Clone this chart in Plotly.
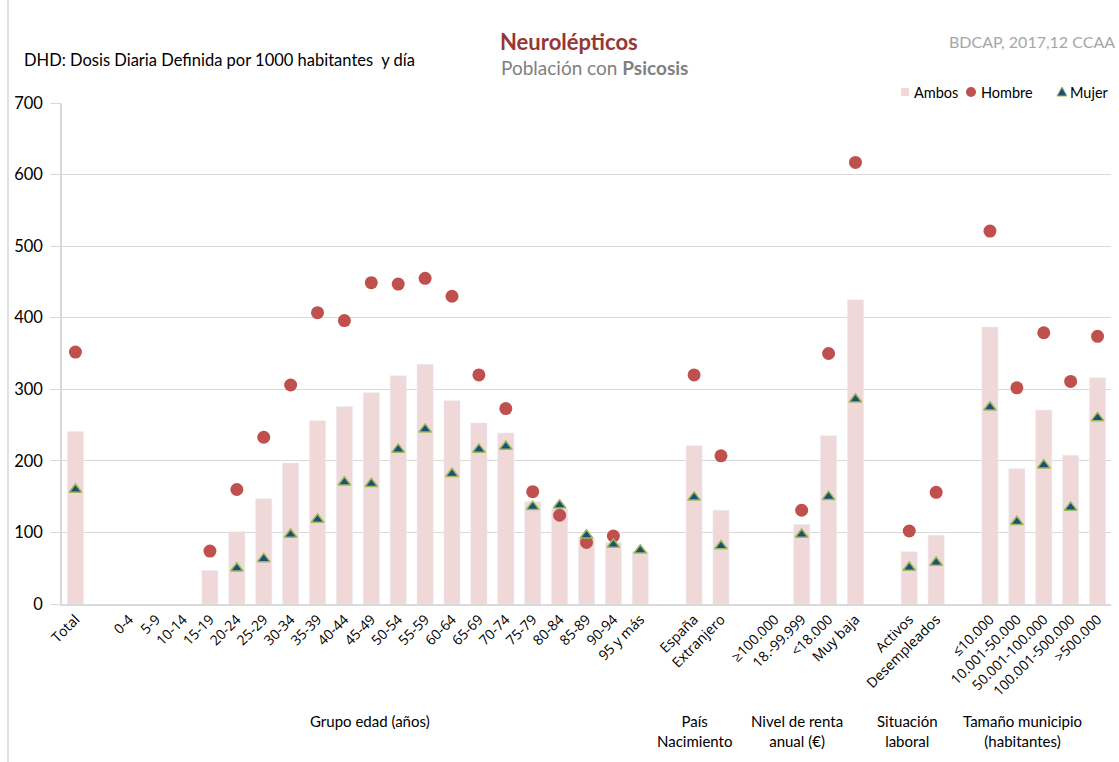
import plotly.graph_objects as go

categories = ["Total", " ", "0-4", "5-9", "10-14", "15-19", "20-24", "25-29", "30-34",
              "35-39", "40-44", "45-49", "50-54", "55-59", "60-64", "65-69", "70-74",
              "75-79", "80-84", "85-89", "90-94", "95 y más", "  ", "España", "Extranjero",
              "   ", "≥100.000", "18.-99.999", "<18.000", "Muy baja", "    ", "Activos",
              "Desempleados", "     ", "≤10.000", "10.001-50.000", "50.001-100.000",
              "100.001-500.000", ">500.000"]

ambos = [241, None, None, None, None, 47, 101, 147, 197, 256, 276, 295, 319, 335, 284, 253,
         239, 143, 133, 93, 86, 73, None, 221, 131, None, None, 111, 235, 425, None, 73, 96,
         None, 387, 189, 271, 208, 316]
hombre = [352, None, None, None, None, 74, 160, 233, 306, 407, 396, 449, 447, 455, 430, 320,
          273, 157, 124, 86, 95, None, None, 320, 207, None, None, 131, 350, 617, None, 102,
          156, None, 521, 302, 379, 311, 374]
mujer = [160, None, None, None, None, None, 50, 63, 97, 118, 170, 168, 216, 244, 182, 216,
         220, 136, 138, 96, 83, 75, None, 149, 81, None, None, 97, 150, 286, None, 51, 58,
         None, 275, 115, 194, 135, 260]

group_labels = ["Grupo edad (años)", "País<br>Nacimiento", "Nivel de renta<br>anual (€)",
                "Situación<br>laboral", "Tamaño municipio<br>(habitantes)"]
group_x = [370, 694, 797, 907, 1022]

series_names = ["Ambos", "Hombre", "Mujer"]
colors = dict(Ambos="#F0D8D9", Hombre="#C0504D", Mujer="#1F4E79", MujerLine="#9BBB59")

W, H = 1119, 762
L, R, T, B = 62, 8, 103, 158
pw, ph = W - L - R, H - T - B


def px_x(x):
    return (x - L) / pw


def px_y(y):
    return (H - B - y) / ph


fig = go.Figure()
fig.add_trace(go.Bar(x=categories, y=ambos, name=series_names[0], marker_color=colors["Ambos"],
                     width=0.6))
fig.add_trace(go.Scatter(x=categories, y=hombre, name=series_names[1], mode="markers",
                         marker=dict(symbol="circle", size=13, color=colors["Hombre"])))
fig.add_trace(go.Scatter(x=categories, y=mujer, name=series_names[2], mode="markers",
                         marker=dict(symbol="triangle-up", size=11, color=colors["Mujer"],
                                     line=dict(color=colors["MujerLine"], width=1.5))))

annotations = [
    dict(text="<b>Neurolépticos</b>", x=px_x(569), y=px_y(42), font=dict(size=22, color="#953735")),
    dict(text="Población con <b>Psicosis</b>", x=px_x(594), y=px_y(68), font=dict(size=19, color="#808080")),
    dict(text="BDCAP, 2017,12 CCAA", x=px_x(1117), y=px_y(42), xanchor="right",
         font=dict(size=16, color="#A6A6A6")),
    dict(text="DHD: Dosis Diaria Definida por 1000 habitantes  y día", x=px_x(22), y=px_y(60),
         xanchor="left", font=dict(size=16.5, color="#000000")),
]
for t, gx in zip(group_labels, group_x):
    annotations.append(dict(text=t, x=px_x(gx), y=px_y(710), yanchor="top",
                            font=dict(size=15, color="#000000")))

# legend (drawn manually to match the compact layout)
leg_y = 92
leg_items = [(905, 912), (971, 979), (1062, 1068)]
for name, (mx, tx) in zip(series_names, leg_items):
    annotations.append(dict(text=name, x=px_x(tx), y=px_y(leg_y), xanchor="left",
                            font=dict(size=14.5, color="#000000")))
for a in annotations:
    a.setdefault("xanchor", "center")
    a.setdefault("yanchor", "middle")
    a.update(xref="paper", yref="paper", showarrow=False)

shapes = [dict(type="line", xref="paper", yref="paper", x0=px_x(8), x1=px_x(8),
               y0=px_y(762), y1=px_y(0), line=dict(color="#D9D9D9", width=1.5))]
(sx, _), (cx, _), (trx, _) = leg_items
shapes.append(dict(type="rect", xref="paper", yref="paper", x0=px_x(sx - 4), x1=px_x(sx + 4),
                   y0=px_y(leg_y + 4), y1=px_y(leg_y - 4), fillcolor=colors["Ambos"],
                   line=dict(width=0)))
shapes.append(dict(type="circle", xref="paper", yref="paper", x0=px_x(cx - 5), x1=px_x(cx + 5),
                   y0=px_y(leg_y + 5), y1=px_y(leg_y - 5), fillcolor=colors["Hombre"],
                   line=dict(width=0)))
tri = "M {:.5f},{:.5f} L {:.5f},{:.5f} L {:.5f},{:.5f} Z".format(
    px_x(trx - 5), px_y(leg_y + 4), px_x(trx + 5), px_y(leg_y + 4), px_x(trx), px_y(leg_y - 5))
shapes.append(dict(type="path", xref="paper", yref="paper", path=tri,
                   fillcolor=colors["Mujer"], line=dict(color=colors["MujerLine"], width=1)))

fig.update_layout(
    width=W, height=H,
    margin=dict(l=L, r=R, t=T, b=B, autoexpand=False),
    paper_bgcolor="white", plot_bgcolor="white",
    font=dict(family="Lato, Open Sans, sans-serif", color="#000000"),
    showlegend=False,
    annotations=annotations,
    shapes=shapes,
    xaxis=dict(type="category", categoryorder="array", categoryarray=categories,
               tickangle=-45, tickfont=dict(size=14, family="Open Sans, sans-serif"),
               showgrid=False, showline=True, linecolor="#D9D9D9", linewidth=1.5,
               ticks="", range=[-0.5, len(categories) - 0.5], automargin=False),
    yaxis=dict(range=[0, 700], tickvals=[0, 100, 200, 300, 400, 500, 600, 700],
               showgrid=True, gridcolor="#D9D9D9", gridwidth=1.2,
               showline=True, linecolor="#D9D9D9", linewidth=1.5,
               ticks="outside", ticklen=10, tickcolor="#D9D9D9", ticklabelstandoff=4,
               tickfont=dict(size=16.5), zeroline=False, automargin=False),
)

fig.write_html("out.html", config=dict(displayModeBar=False),
               post_script="document.body.style.margin='0';document.body.style.overflow='hidden';")
